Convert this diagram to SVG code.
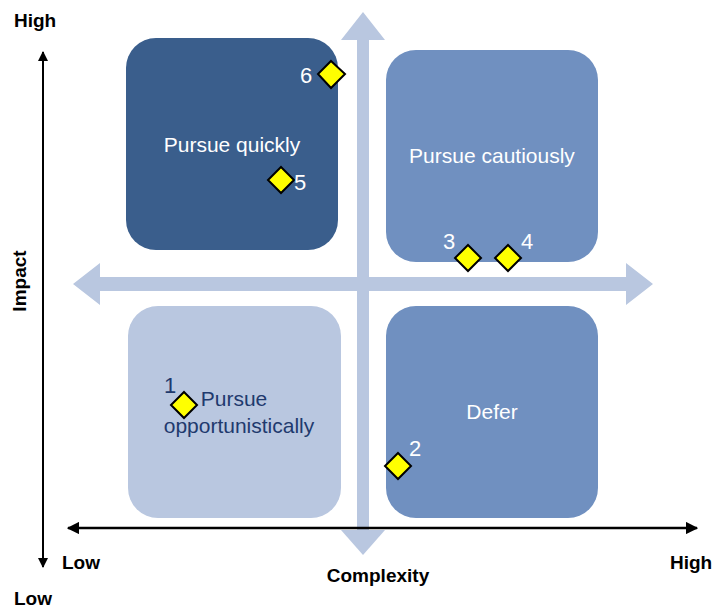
<svg xmlns="http://www.w3.org/2000/svg" width="718" height="613" viewBox="0 0 718 613">
<style>
.ax{font-family:"Liberation Sans","DejaVu Sans",sans-serif;font-weight:bold;font-size:19px;fill:#000}
.lbl{font-family:"Liberation Sans","DejaVu Sans",sans-serif;font-size:21px;fill:#fff}
.num{font-size:22px}
.dk{fill:#1F3A6E}
.dia{fill:#FFFF00;stroke:#000;stroke-width:2}
</style>
<defs>
<marker id="ah" viewBox="0 0 10 10" refX="9" refY="5" markerWidth="5" markerHeight="5" orient="auto-start-reverse" markerUnits="strokeWidth">
<path d="M0,0 L10,5 L0,10 z" fill="#000"/>
</marker>
</defs>
<rect width="718" height="613" fill="#fff"/>
<g id="q-quick">
<rect x="126" y="38" width="212" height="212" rx="30" fill="#3A5E8C"/>
<text class="lbl" x="232" y="152" text-anchor="middle">Pursue quickly</text>
</g>
<g id="q-caut">
<rect x="386" y="50" width="212" height="212" rx="30" fill="#7090C0"/>
<text class="lbl" x="492" y="163" text-anchor="middle">Pursue cautiously</text>
</g>
<g id="q-opp">
<rect x="128" y="306" width="213" height="212" rx="30" fill="#B9C7E0"/>
<text class="lbl dk" x="234" y="406" text-anchor="middle">Pursue</text>
<text class="lbl dk" x="239" y="433" text-anchor="middle">opportunistically</text>
</g>
<g id="q-defer">
<rect x="386" y="306" width="212" height="212" rx="30" fill="#7090C0"/>
<text class="lbl" x="492" y="419" text-anchor="middle">Defer</text>
</g>
<g id="cross">
<path d="M357,540 L357,40 L341,40 L363,12 L385,40 L369,40 L369,540 Z" fill="#B9C7E0"/>
<path d="M363,555 L341,530 L385,530 Z" fill="#B9C7E0"/>
<path d="M73,284 L100,263 L100,277 L626,277 L626,263 L653,284 L626,305 L626,291 L100,291 L100,305 Z" fill="#B9C7E0"/>
</g>
<g id="connectors">
<line x1="43" y1="567" x2="43" y2="52" stroke="#000" stroke-width="2" marker-start="url(#ah)" marker-end="url(#ah)"/>
<line x1="68" y1="528" x2="697" y2="528" stroke="#000" stroke-width="2.5" marker-start="url(#ah)" marker-end="url(#ah)"/>
</g>
<g id="axis-labels">
<text class="ax" x="14" y="27">High</text>
<text class="ax" x="14" y="605">Low</text>
<text class="ax" x="62" y="569">Low</text>
<text class="ax" x="670" y="569">High</text>
<text class="ax" x="378" y="582" text-anchor="middle">Complexity</text>
<text class="ax" transform="translate(26,281) rotate(-90)" text-anchor="middle" font-size="20">Impact</text>
</g>
<g id="p6"><path class="dia" d="M331,61 L345,74 L331,88 L318,74 Z"/><text class="lbl num" x="300" y="83">6</text></g>
<g id="p5"><path class="dia" d="M281,167 L294,180 L281,193 L268,180 Z"/><text class="lbl num" x="294" y="190">5</text></g>
<g id="p3"><path class="dia" d="M468,245 L481,258 L468,271 L455,258 Z"/><text class="lbl num" x="443" y="249">3</text></g>
<g id="p4"><path class="dia" d="M508,245 L521,258 L508,271 L495,258 Z"/><text class="lbl num" x="521" y="249">4</text></g>
<g id="p1"><path class="dia" d="M184,392 L197,405 L184,418 L171,405 Z"/><text class="lbl num dk" x="164" y="393">1</text></g>
<g id="p2"><path class="dia" d="M398,453 L411,466 L398,479 L385,466 Z"/><text class="lbl num" x="409" y="456">2</text></g>
</svg>
